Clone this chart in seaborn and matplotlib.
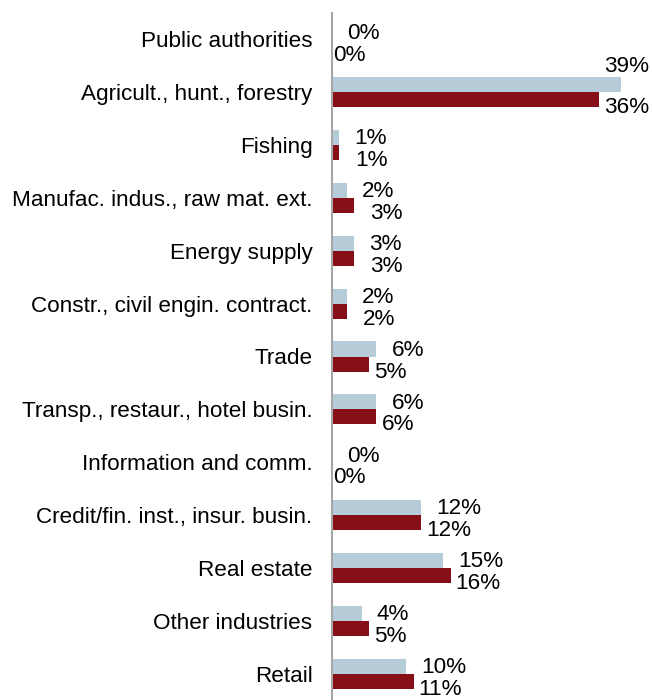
import numpy as np
import pandas as pd
import matplotlib
matplotlib.use('Agg')
import matplotlib.pyplot as plt
import seaborn as sns

# Data (shares in %)
categories = ['Public authorities', 'Agricult., hunt., forestry', 'Fishing',
              'Manufac. indus., raw mat. ext.', 'Energy supply',
              'Constr., civil engin. contract.', 'Trade',
              'Transp., restaur., hotel busin.', 'Information and comm.',
              'Credit/fin. inst., insur. busin.', 'Real estate',
              'Other industries', 'Retail']
series_names = ['Series A', 'Series B']
values_a = [0, 39, 1, 2, 3, 2, 6, 6, 0, 12, 15, 4, 10]
values_b = [0, 36, 1, 3, 3, 2, 5, 6, 0, 12, 16, 5, 11]
colors = ['#B7CCD9', '#870F17']

df = pd.DataFrame({
    'category': categories * 2,
    'series': [series_names[0]] * len(categories) + [series_names[1]] * len(categories),
    'value': values_a + values_b,
})

sns.set_style('white')
plt.rcParams['font.family'] = ['Liberation Sans', 'DejaVu Sans']
plt.rcParams['text.color'] = 'black'
plt.rcParams['ytick.color'] = 'black'

fig = plt.figure(figsize=(6.52, 7.0), dpi=100)
ax = fig.add_axes([332 / 652, 0.0, 1 - 332 / 652, 1 - 13 / 700])

sns.barplot(data=df, y='category', x='value', hue='series', order=categories,
            hue_order=series_names, palette=colors, width=0.57, orient='h',
            legend=False, ax=ax, saturation=1, linewidth=0)

xmax = 320 / 7.41
ax.set_xlim(0, xmax)
ax.set_ylim(len(categories) - 0.5, -0.5)

px = 0.72  # points per pixel at 100 dpi

# Percentage labels
for i, (a, b) in enumerate(zip(values_a, values_b)):
    ya = i - 0.57 / 4
    yb = i + 0.57 / 4
    if a / xmax > 0.85:
        ax.annotate(f'{a}%', xy=(1.0, ya), xycoords=('axes fraction', 'data'),
                    xytext=(-2, 13), textcoords='offset points',
                    ha='right', va='center', fontsize=16.2)
    else:
        ax.annotate(f'{a}%', xy=(a, ya), xytext=(15 * px, -1), textcoords='offset points',
                    ha='left', va='center', fontsize=16.2)
    if b == 0:
        gap = 1
    elif b <= 3:
        gap = 16
    else:
        gap = 5
    ax.annotate(f'{b}%', xy=(b, yb), xytext=(gap * px, -5.8), textcoords='offset points',
                ha='left', va='center', fontsize=16.2)

ax.set_xlabel('')
ax.set_ylabel('')
ax.set_xticks([])
ax.tick_params(axis='y', length=0, pad=14, labelsize=16.2)
for s in ['top', 'right', 'bottom']:
    ax.spines[s].set_visible(False)
ax.spines['left'].set_color('#A6A6A6')
ax.spines['left'].set_linewidth(1.5)

fig.savefig('out.png', dpi=100)
